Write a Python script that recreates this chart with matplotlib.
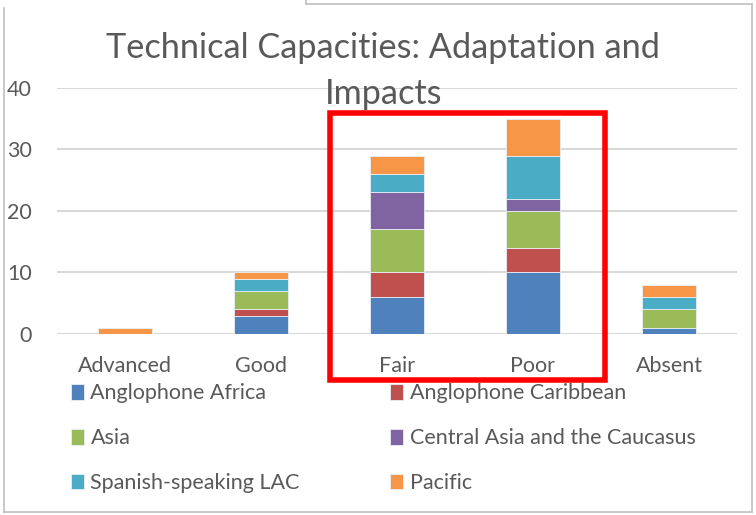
import numpy as np
import matplotlib.pyplot as plt
from matplotlib.patches import Rectangle
from matplotlib.lines import Line2D

plt.rcParams['font.family'] = ['Lato', 'DejaVu Sans']

categories = ["Advanced", "Good", "Fair", "Poor", "Absent"]
series = ["Anglophone Africa", "Anglophone Caribbean", "Asia",
          "Central Asia and the Caucasus", "Spanish-speaking LAC", "Pacific"]
anglophone_africa = [0, 3, 6, 10, 1]
anglophone_caribbean = [0, 1, 4, 4, 0]
asia = [0, 3, 7, 6, 3]
central_asia = [0, 0, 6, 2, 0]
spanish_lac = [0, 2, 3, 7, 2]
pacific = [1, 1, 3, 6, 2]
values = [anglophone_africa, anglophone_caribbean, asia,
          central_asia, spanish_lac, pacific]
colors = ["#4F81BD", "#C0504D", "#9BBB59", "#8064A2", "#4BACC6", "#F79646"]
txt = "#595959"

fig = plt.figure(figsize=(7.56, 5.15), dpi=100)
ax = fig.add_axes([0.075, 0.3515, 0.9, 0.478])

x = np.arange(len(categories))
bottom = np.zeros(len(categories))
handles = []
for name, vals, c in zip(series, values, colors):
    b = ax.bar(x, vals, 0.4, bottom=bottom, color=c, label=name,
               edgecolor="#E8EEF6", linewidth=0.6, zorder=3)
    handles.append(b)
    bottom += np.array(vals)

ax.set_xlim(-0.5, len(categories) - 0.5)
ax.set_ylim(0, 40)
ax.set_yticks([0, 10, 20, 30, 40])
ax.set_xticks(x)
ax.set_xticklabels(categories)
ax.tick_params(axis="both", length=0, labelsize=15.5, labelcolor=txt)
ax.tick_params(axis="x", pad=16)
ax.tick_params(axis="y", pad=18)
ax.grid(axis="y", color="#D9D9D9", linewidth=1.5, zorder=0)
for s in ax.spines.values():
    s.set_visible(False)

fig.text(0.507, 0.862, "Technical Capacities: Adaptation and\nImpacts",
         ha="center", va="center", fontsize=24.7, color=txt, linespacing=1.55)

# legend is filled column by column, so reorder to get row-major layout
order = [0, 2, 4, 1, 3, 5]
fig.legend([handles[i] for i in order], [series[i] for i in order],
           ncol=2, loc="upper left", bbox_to_anchor=(0.094, 0.256),
           frameon=False, fontsize=15.5, labelcolor=txt,
           handlelength=0.6, handleheight=0.75, handletextpad=0.3,
           labelspacing=1.16, columnspacing=4.2, borderpad=0, borderaxespad=0)

# red highlight box
fig.add_artist(Rectangle((330 / 756, 1 - 380 / 515), 275 / 756, 267 / 515,
                         transform=fig.transFigure, fill=False,
                         edgecolor="#FF0000", linewidth=4, zorder=10))

# light frame
g = "#BFBFBF"
for xs, ys in [((4, 4), (8, 512)), ((4, 752), (512, 512)),
               ((752, 752), (4, 512)), ((306, 752), (4, 4)), ((306, 306), (0, 4))]:
    fig.add_artist(Line2D([v / 756 for v in xs], [1 - v / 515 for v in ys],
                          transform=fig.transFigure, color=g, linewidth=1.2))

fig.savefig("out.png", dpi=100)
